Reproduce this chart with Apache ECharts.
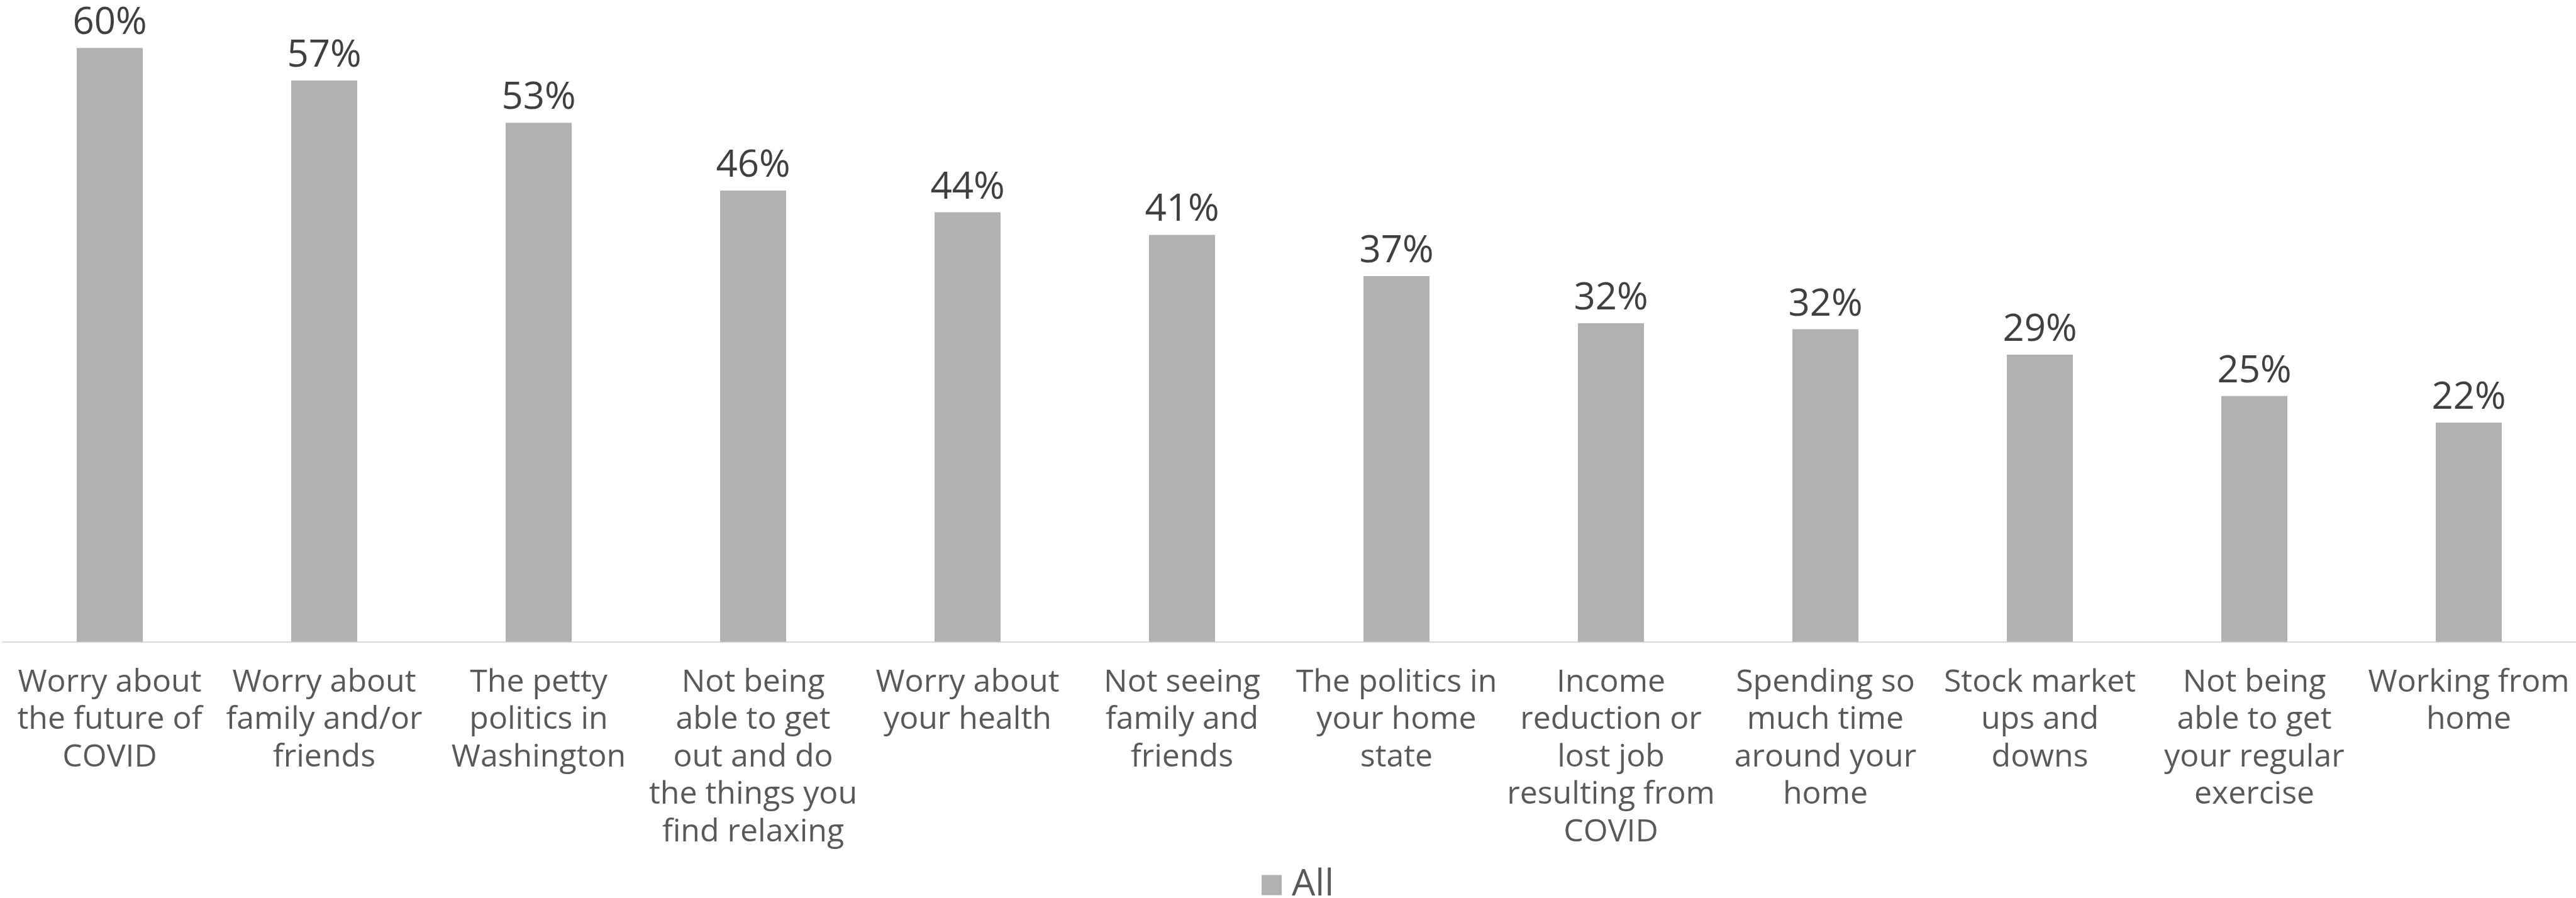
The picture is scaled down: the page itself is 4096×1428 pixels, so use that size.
<!DOCTYPE html>
<html>
<head>
<meta charset="utf-8">
<script src="https://cdn.jsdelivr.net/npm/echarts@6/dist/echarts.min.js"></script>
<style>
html,body{margin:0;padding:0;background:#fff;}
#chart{width:4096px;height:1428px;}
</style>
</head>
<body>
<div id="chart"></div>
<script>
const categories = [
  "Worry about\nthe future of\nCOVID",
  "Worry about\nfamily and/or\nfriends",
  "The petty\npolitics in\nWashington",
  "Not being\nable to get\nout and do\nthe things you\nfind relaxing",
  "Worry about\nyour health",
  "Not seeing\nfamily and\nfriends",
  "The politics in\nyour home\nstate",
  "Income\nreduction or\nlost job\nresulting from\nCOVID",
  "Spending so\nmuch time\naround your\nhome",
  "Stock market\nups and\ndowns",
  "Not being\nable to get\nyour regular\nexercise",
  "Working from\nhome"
];
const seriesName = "All";
const values = [60.4, 57.1, 52.8, 45.9, 43.7, 41.4, 37.2, 32.4, 31.8, 29.2, 25.0, 22.3];

const FONT = "'Open Sans', 'DejaVu Sans', sans-serif";
const chart = echarts.init(document.getElementById('chart'), null, {renderer: 'canvas'});
chart.setOption({
  backgroundColor: '#ffffff',
  animation: false,
  legend: {
    data: [seriesName],
    left: 2001,
    top: 1373,
    icon: 'rect',
    itemWidth: 32,
    itemHeight: 32,
    textStyle: {fontFamily: FONT, fontSize: 59, color: '#595959', padding: [0, 0, 0, 11]}
  },
  grid: {left: 4, width: 4094, top: 4.45, bottom: 407.4, containLabel: false},
  xAxis: {
    type: 'category',
    data: categories,
    axisLine: {show: true, lineStyle: {color: '#d9d9d9', width: 2}},
    axisTick: {show: false},
    axisLabel: {
      interval: 0,
      hideOverlap: false,
      margin: 35,
      fontFamily: FONT,
      fontSize: 50,
      lineHeight: 59.5,
      color: '#595959',
      align: 'center'
    }
  },
  yAxis: {
    type: 'value',
    min: 0,
    max: 65,
    show: false,
    splitLine: {show: false}
  },
  series: [{
    name: seriesName,
    type: 'bar',
    data: values,
    barWidth: 105,
    itemStyle: {color: '#b0b1b3'},
    label: {
      show: true,
      position: 'top',
      distance: 9,
      fontFamily: FONT,
      fontSize: 60,
      color: '#404040',
      formatter: p => Math.round(p.value) + '%'
    }
  }]
});
</script>
</body>
</html>
